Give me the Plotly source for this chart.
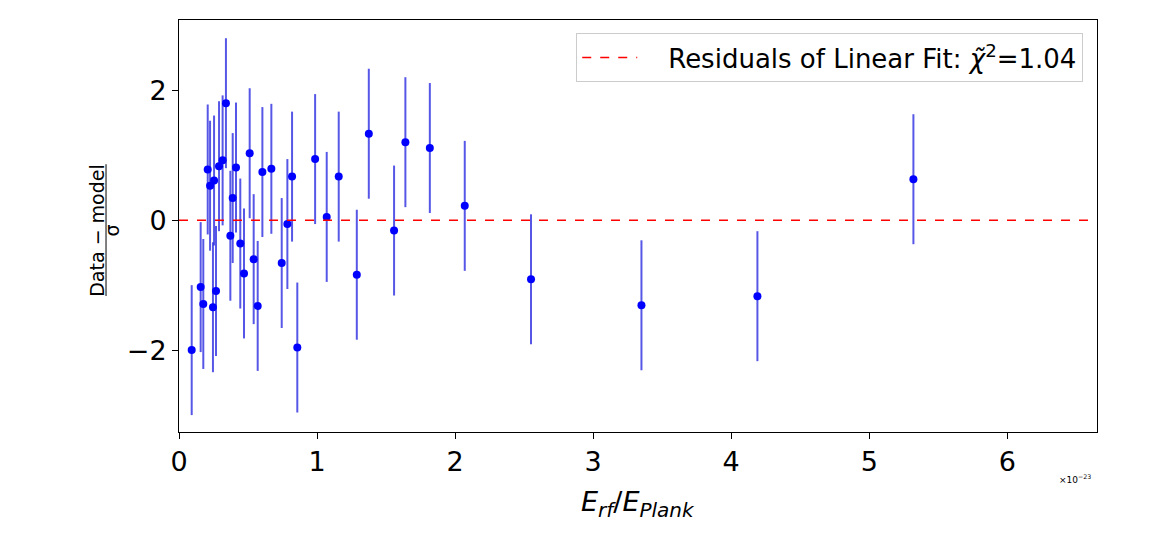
import plotly.graph_objects as go

# Energy ratio (in units of 1e-23) and normalised residuals of the linear fit
x_ratio = [0.092, 0.157, 0.176, 0.208, 0.225, 0.246, 0.254, 0.268, 0.290, 0.316,
           0.340, 0.372, 0.389, 0.413, 0.444, 0.471, 0.512, 0.541, 0.570, 0.604,
           0.669, 0.744, 0.785, 0.819, 0.857, 0.986, 1.070, 1.157, 1.288, 1.375,
           1.558, 1.640, 1.817, 2.070, 2.550, 3.350, 4.190, 5.320]
residuals = [-2.00, -1.03, -1.29, 0.78, 0.53, -1.34, 0.61, -1.09, 0.83, 0.92,
             1.80, -0.24, 0.34, 0.81, -0.36, -0.82, 1.03, -0.60, -1.32, 0.74,
             0.79, -0.66, -0.06, 0.67, -1.96, 0.94, 0.05, 0.67, -0.84, 1.33,
             -0.16, 1.20, 1.11, 0.22, -0.91, -1.31, -1.17, 0.63]
residual_err = [1.0] * len(residuals)

x_ticks = [0, 1, 2, 3, 4, 5, 6]
y_ticks = [-2, 0, 2]
y_tick_text = ["\u22122", "0", "2"]
x_range = [0, 6.65]
y_range = [-3.26, 3.08]

FONT = "DejaVu Sans"

fig = go.Figure()

fig.add_trace(go.Scatter(
    x=x_ratio, y=residuals, mode="markers",
    marker=dict(color="#0000ff", size=8),
    error_y=dict(type="data", array=residual_err, visible=True,
                 color="rgba(45,45,225,0.8)", thickness=2, width=0),
    showlegend=False,
))

fig.add_trace(go.Scatter(
    x=x_range, y=[0, 0], mode="lines",
    line=dict(color="red", width=1.5, dash="dash"),
    name="\u2002\u2002Residuals of Linear Fit: <i>\u03c7\u0303</i><sup>2</sup>=1.04",
))

axis_common = dict(
    showgrid=False, zeroline=False, showline=True, linecolor="black",
    linewidth=1, mirror=True, ticks="outside", ticklen=6, tickcolor="black",
    tickfont=dict(family=FONT, size=27, color="black"),
)

fig.update_xaxes(range=x_range, tickvals=x_ticks, **axis_common)
fig.update_yaxes(range=y_range, tickvals=y_ticks, ticktext=y_tick_text, **axis_common)

fig.update_layout(
    width=1150, height=538,
    margin=dict(l=179, r=53, t=20, b=106),
    paper_bgcolor="white", plot_bgcolor="white",
    font=dict(family=FONT, color="black"),
    legend=dict(
        x=0.985, y=0.968, xanchor="right", yanchor="top",
        bgcolor="white", bordercolor="#cccccc", borderwidth=1,
        itemwidth=55,
        font=dict(family=FONT, size=26, color="black"),
    ),
)

# x-axis title
fig.add_annotation(
    xref="paper", yref="paper", x=0.5, y=-0.125, yanchor="top",
    text=("<i>E</i><sub><i><span style='font-size:20px'>rf</span></i></sub>/"
          "<i>E</i><sub><i><span style='font-size:20px'>Plank</span></i></sub>"),
    showarrow=False, font=dict(family=FONT, size=27, color="black"),
)

# scale factor for the x axis
fig.add_annotation(
    xref="paper", yref="paper", x=0.976, y=-0.115, xanchor="center", yanchor="middle",
    text="\u00d710<sup>\u221223</sup>",
    showarrow=False, font=dict(family=FONT, size=9, color="black"),
)

# y-axis title drawn as a fraction: (Data - model) / sigma
fig.add_annotation(
    xref="paper", yref="paper", x=-0.0897, y=0.49, xanchor="center", yanchor="middle",
    text="Data \u2212 model", textangle=-90,
    showarrow=False, font=dict(family=FONT, size=19, color="black"),
)
fig.add_shape(
    type="line", xref="paper", yref="paper",
    x0=-0.0795, x1=-0.0795, y0=0.33, y1=0.65,
    line=dict(color="black", width=1),
)
fig.add_annotation(
    xref="paper", yref="paper", x=-0.0725, y=0.49, xanchor="center", yanchor="middle",
    text="\u03c3", textangle=-90,
    showarrow=False, font=dict(family=FONT, size=19, color="black"),
)

fig.write_html("out.html")
